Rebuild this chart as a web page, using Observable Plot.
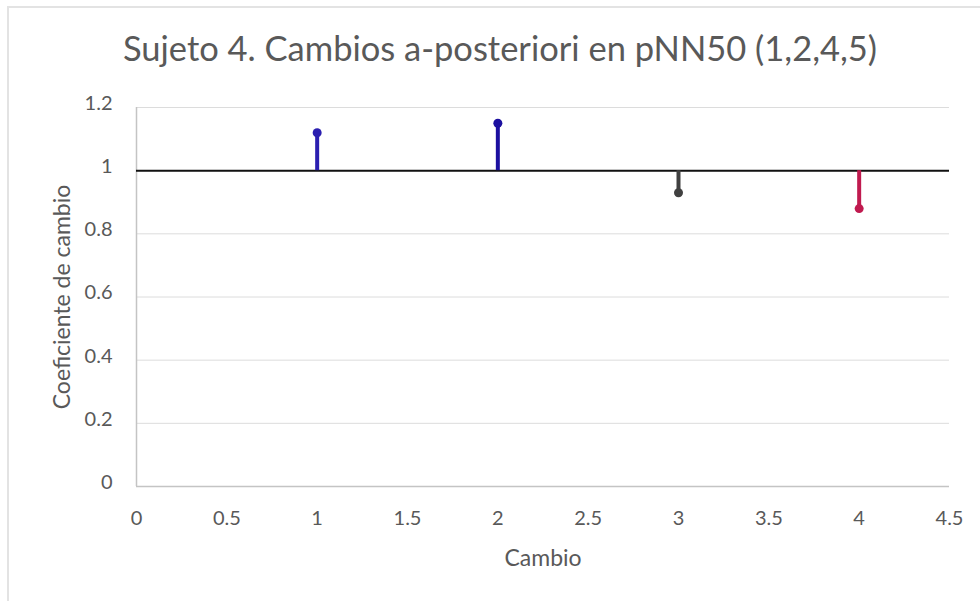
<!DOCTYPE html>
<html>
<head>
<meta charset="utf-8">
<script src="https://cdn.jsdelivr.net/npm/d3@7"></script>
<script src="https://cdn.jsdelivr.net/npm/@observablehq/plot@0.6"></script>
<style>
  body { margin: 0; background: #fff; }
  #wrap { position: relative; width: 980px; height: 601px; overflow: hidden; }
  #frame { position: absolute; left: 7px; top: 6px; width: 990px; height: 610px;
           border-left: 2px solid #e3e3e3; border-top: 2px solid #e3e3e3; }
  #title { position: absolute; left: 0; top: 0; width: 1000px; height: 80px;
           text-align: center; line-height: 96px; font-family: Lato, "Open Sans", sans-serif;
           font-size: 34.5px; color: #595959; white-space: nowrap; }
  #chart { position: absolute; left: 0; top: 80px; }
</style>
</head>
<body>
<div id="wrap">
  <div id="frame"></div>
  <div id="title">Sujeto 4. Cambios a-posteriori en pNN50 (1,2,4,5)</div>
  <div id="chart"></div>
</div>
<script>
// Change coefficients for each posterior change
const cambios = [1, 2, 3, 4];
const coeficientes = [1.12, 1.15, 0.93, 0.88];
const colores = ["#2b1fb0", "#1c10a0", "#404040", "#c01a4f"];

const xTicks = [0, 0.5, 1, 1.5, 2, 2.5, 3, 3.5, 4, 4.5];
const yTicks = [0, 0.2, 0.4, 0.6, 0.8, 1, 1.2];
const baseline = 1;

const data = cambios.map((c, i) => ({cambio: c, valor: coeficientes[i], color: colores[i]}));

const font = "Lato, 'Open Sans', sans-serif";

const plot = Plot.plot({
  width: 980,
  height: 521,
  marginLeft: 136,
  marginRight: 31,
  marginTop: 27,
  marginBottom: 115,
  style: {fontFamily: font, fontSize: "20px", color: "#595959", background: "transparent"},
  x: {domain: [0, 4.5]},
  y: {domain: [0, 1.2]},
  marks: [
    Plot.gridY(yTicks.filter(d => d > 0), {stroke: "#dcdcdc", strokeOpacity: 1, strokeWidth: 1}),
    Plot.ruleY([0], {stroke: "#c4c4c4", strokeWidth: 1.5}),
    Plot.ruleX([0], {stroke: "#c4c4c4", strokeWidth: 1.5}),
    Plot.ruleY([baseline], {stroke: "#111", strokeWidth: 2}),
    Plot.ruleX(data, {x: "cambio", y1: baseline, y2: "valor", stroke: "color", strokeWidth: 4}),
    Plot.dot(data, {x: "cambio", y: "valor", fill: "color", r: 4.5, stroke: "none"}),
    Plot.axisX({ticks: xTicks, tickSize: 0, tickPadding: 24, tickFormat: d => String(d),
      fontSize: 20, fill: "#595959", label: null}),
    Plot.axisY({ticks: yTicks, tickSize: 0, tickPadding: 24, tickFormat: d => String(d),
      fontSize: 20, fill: "#595959", dy: -4, label: null}),
    Plot.text(["Cambio"], {frameAnchor: "bottom", dy: 72, lineAnchor: "middle", textAnchor: "middle",
      fontSize: 23, fill: "#595959"}),
    Plot.text(["Coeficiente de cambio"], {frameAnchor: "left", dx: -74, rotate: -90,
      lineAnchor: "middle", textAnchor: "middle", fontSize: 23, fill: "#595959"})
  ]
});

document.getElementById("chart").appendChild(plot);
</script>
</body>
</html>
